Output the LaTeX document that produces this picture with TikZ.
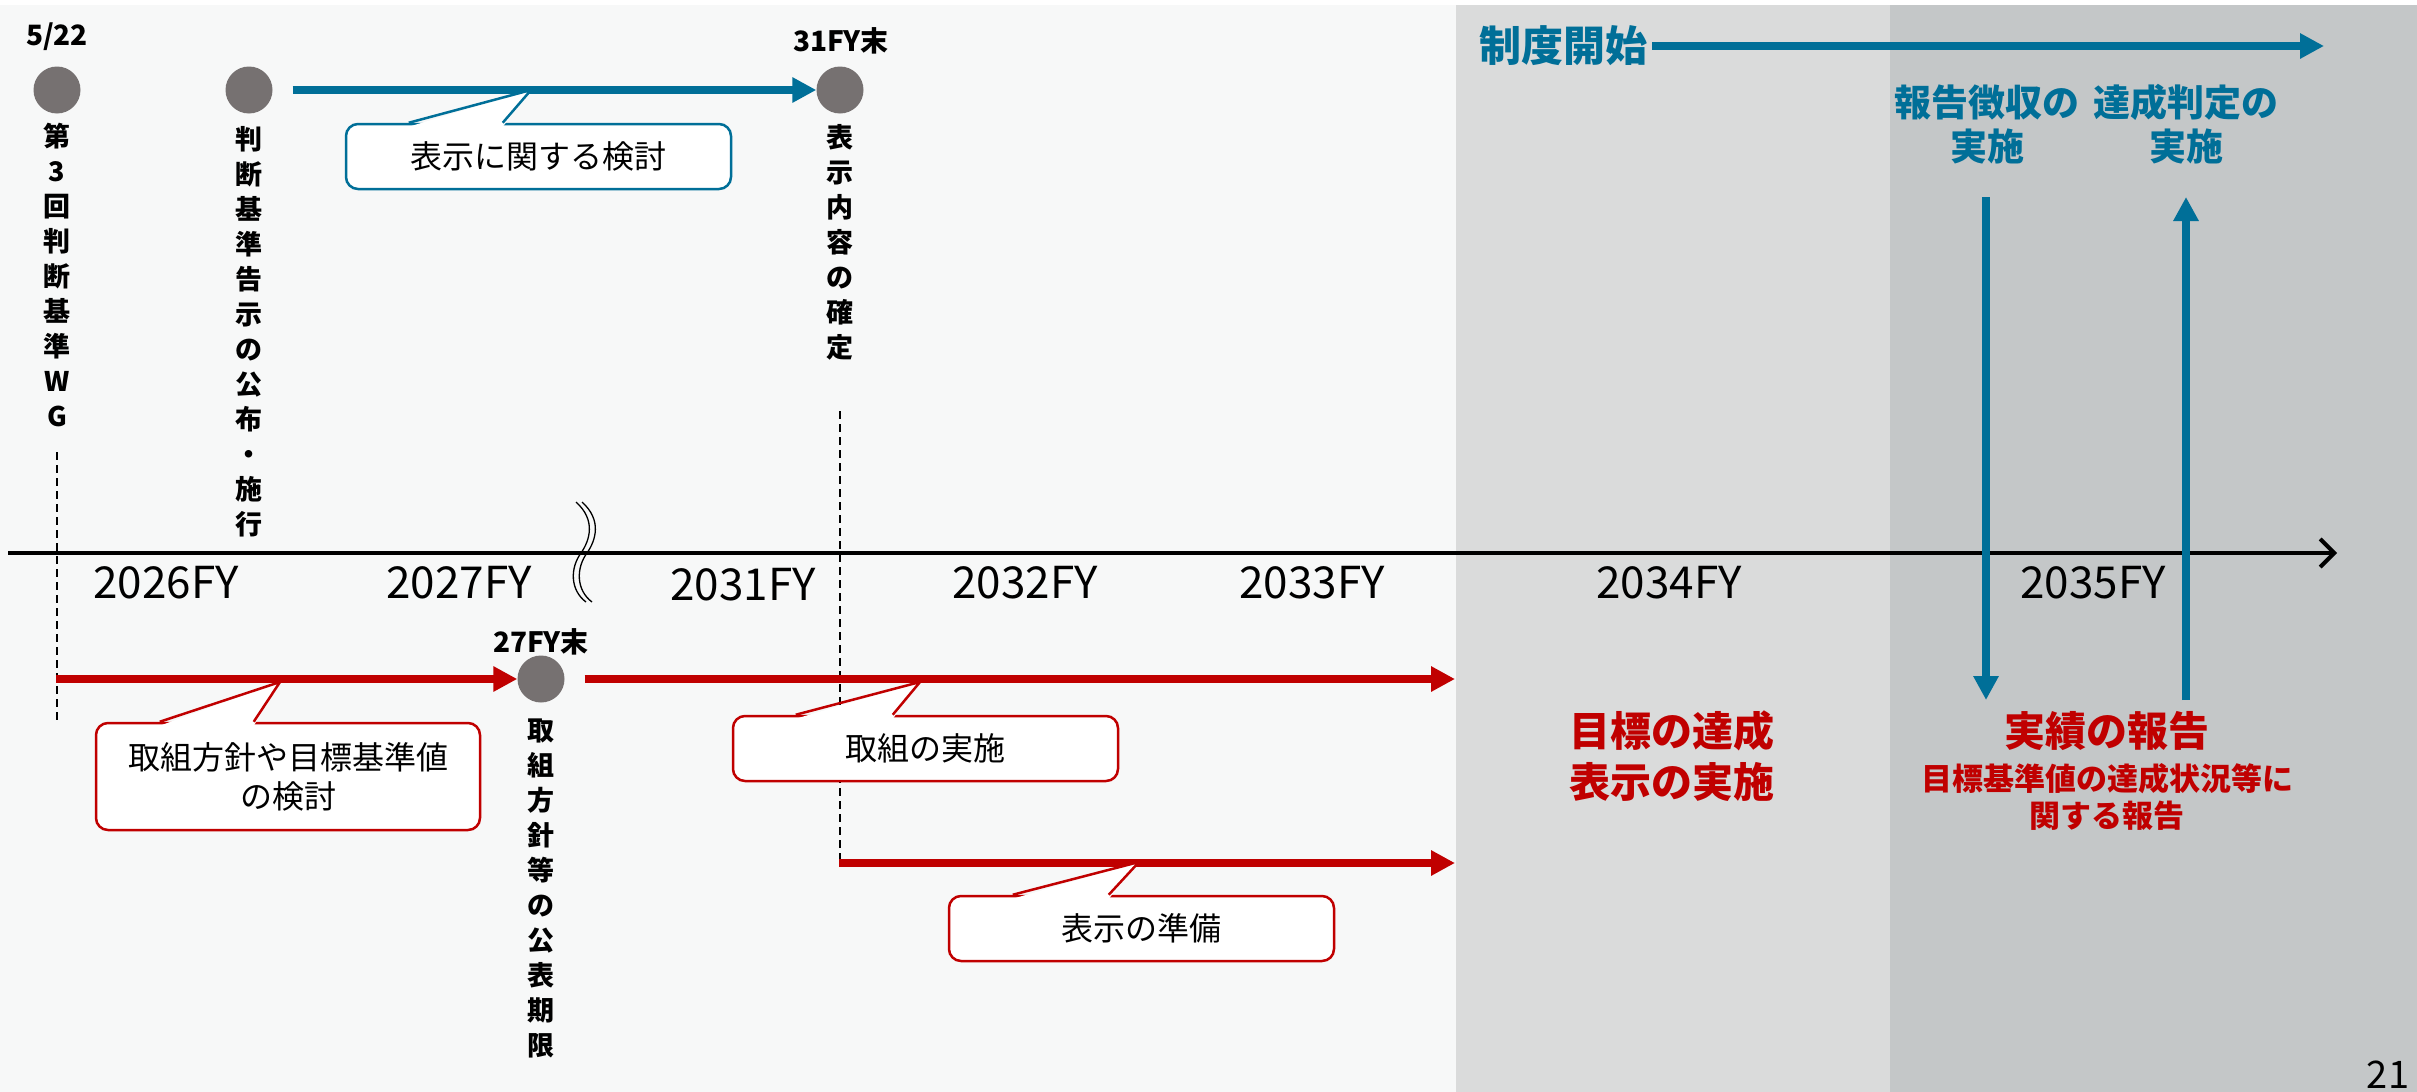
\documentclass[tikz,border=0pt]{standalone}
\usepackage{fontspec}
\setmainfont{Noto Sans CJK JP}
\usetikzlibrary{arrows.meta,calc}
\definecolor{bgl}{HTML}{F7F8F8}
\definecolor{bandA}{HTML}{DADBDB}
\definecolor{bandB}{HTML}{C4C7C8}
\definecolor{tblue}{HTML}{006F98}
\definecolor{tred}{HTML}{C00000}
\definecolor{dotgray}{HTML}{767171}
\tikzset{
  dot/.style={circle, fill=dotgray, minimum size=47pt, inner sep=0pt},
  vlabel/.style={font=\bfseries\fontsize{27pt}{35pt}\selectfont, align=center, inner sep=0pt, anchor=north},
  datelbl/.style={font=\bfseries\fontsize{28pt}{32pt}\selectfont, inner sep=0pt},
  yearlbl/.style={font=\fontsize{44pt}{50pt}\selectfont, inner sep=0pt},
  barrow/.style={draw=tblue, line width=8pt, -{Triangle[length=24pt,width=24pt]}},
  rarrow/.style={draw=tred, line width=7.5pt, -{Triangle[length=24pt,width=24pt]}},
  cbox/.style={draw=#1, line width=2.5pt, fill=white, rounded corners=12pt, inner sep=0pt,
     font=\fontsize{32pt}{39pt}\selectfont, align=center, minimum width=385pt},
  guide/.style={draw=black, line width=1.2pt, dash pattern=on 8pt off 5pt},
}
\newcommand\callptr[5]{%
  \fill[white] ([xshift=#2pt,yshift=-4pt]#1.north west) -- (#4) -- ([xshift=#3pt,yshift=-4pt]#1.north west) -- cycle;
  \draw[#5, line width=2.5pt, line join=miter] ([xshift=#2pt]#1.north west) -- (#4) -- ([xshift=#3pt]#1.north west);}
\begin{document}
\begin{tikzpicture}[x=1pt,y=-1pt]
\path[use as bounding box] (0,0) rectangle (2417,1092);
% backgrounds
\fill[white] (0,0) rectangle (2417,1092);
\fill[bgl] (0,5) rectangle (1456,1092);
\fill[bandA] (1456,5) rectangle (1890,1092);
\fill[bandB] (1890,5) rectangle (2417,1092);

% axis
\coordinate (axS) at (8,553);
\coordinate (axE) at (2337,553);
\draw[line width=4pt, -{Straight Barb[length=14pt,width=28pt]}] (axS) -- (axE);

% break marks
\draw[line width=1.3pt] (576,502) .. controls (596,520) and (590,540) .. (581,553) .. controls (570,568) and (570,590) .. (586,602);
\draw[line width=1.3pt] (582,502) .. controls (602,520) and (596,540) .. (587,553) .. controls (576,568) and (576,590) .. (592,602);

% years
\node[yearlbl] (y26) at (166,583) {2026FY};
\node[yearlbl] (y27) at (459,583) {2027FY};
\node[yearlbl] (y31) at (743,585) {2031FY};
\node[yearlbl] (y32) at (1025,583) {2032FY};
\node[yearlbl] (y33) at (1312,583) {2033FY};
\node[yearlbl] (y34) at (1669,583) {2034FY};
\node[yearlbl] (y35) at (2093,583) {2035FY};

% dashed guides
\coordinate (g1a) at (57,452);
\coordinate (g1b) at (57,723);
\draw[guide] (g1a) -- (g1b);
\coordinate (g2a) at (840,411);
\coordinate (g2b) at (840,860);
\draw[guide] (g2a) -- (g2b);

% milestone dots
\node[dot] (d1) at (57,90) {};
\node[dot] (d2) at (249,90) {};
\node[dot] (d3) at (840,90) {};
\node[dot] (d4) at (541,679) {};

% date labels
\node[datelbl] (t1) at (57,37) {5/22};
\node[datelbl] (t3) at (841,41) {31FY末};
\node[datelbl] (t4) at (541,642) {27FY末};

% vertical labels
\node[vlabel] (v1) at (57,123) {第\\3\\回\\判\\断\\基\\準\\W\\G};
\node[vlabel] (v2) at (249,126) {判\\断\\基\\準\\告\\示\\の\\公\\布\\・\\施\\行};
\node[vlabel] (v3) at (840,124) {表\\示\\内\\容\\の\\確\\定};
\node[vlabel] (v4) at (541,719) {取\\組\\方\\針\\等\\の\\公\\表\\期\\限};

% blue arrow top-left
\draw[barrow] ([xshift=20pt]d2.east) -- (d3.west);

% red arrows
\coordinate (r1s) at (56,679);
\draw[rarrow] (r1s) -- (d4.west);
\coordinate (r2e) at (1455,679);
\draw[rarrow] ([xshift=20pt]d4.east) -- (r2e);
\coordinate (r3s) at (839,863);
\coordinate (r3e) at (1455,863);
\draw[rarrow] (r3s) -- (r3e);

% callouts
\node[cbox=tblue, minimum height=65pt] (c1) at (538.5,156.5) {表示に関する検討};
\coordinate (c1tip) at (531,90);
\callptr{c1}{64}{158}{c1tip}{tblue}
\node[cbox=tred, minimum height=107pt, minimum width=384pt] (c2) at (288,776.5) {取組方針や目標基準値\\の検討};
\coordinate (c2tip) at (280,682);
\callptr{c2}{65}{159}{c2tip}{tred}
\node[cbox=tred, minimum height=65pt] (c3) at (925.5,748.5) {取組の実施};
\coordinate (c3tip) at (920,682);
\callptr{c3}{64}{161}{c3tip}{tred}
\node[cbox=tred, minimum height=65pt] (c4) at (1141.5,928.5) {表示の準備};
\coordinate (c4tip) at (1139,862);
\callptr{c4}{65}{161}{c4tip}{tred}

% system start
\node[font=\bfseries\fontsize{42pt}{48pt}\selectfont, text=tblue, inner sep=0pt] (seido) at (1563,46) {制度開始};
\coordinate (seidoE) at (2324,46);
\draw[barrow] ([xshift=5pt]seido.east) -- (seidoE);

\node[font=\bfseries\fontsize{37pt}{44pt}\selectfont, text=tblue, align=center, inner sep=0pt] (hok) at (1987,124) {報告徴収の\\実施};
\node[font=\bfseries\fontsize{37pt}{44pt}\selectfont, text=tblue, align=center, inner sep=0pt] (tas) at (2186,124) {達成判定の\\実施};

\coordinate (dnA) at (1986,197);
\coordinate (dnB) at (1986,700);
\draw[barrow] (dnA) -- (dnB);
\coordinate (upA) at (2186,700);
\coordinate (upB) at (2186,197);
\draw[barrow] (upA) -- (upB);

% red texts
\node[font=\bfseries\fontsize{41pt}{51pt}\selectfont, text=tred, align=center, inner sep=0pt] (goal) at (1672,756) {目標の達成\\表示の実施};
\node[font=\bfseries\fontsize{41pt}{48pt}\selectfont, text=tred, inner sep=0pt] (jis) at (2107,731) {実績の報告};
\node[font=\bfseries\fontsize{31pt}{37pt}\selectfont, text=tred, align=center, inner sep=0pt] (jisd) at (2107,797) {目標基準値の達成状況等に\\関する報告};

% page number
\node[font=\fontsize{38pt}{42pt}\selectfont, inner sep=0pt, anchor=south] (pg) at (2388,1089) {21};
\end{tikzpicture}
\end{document}
